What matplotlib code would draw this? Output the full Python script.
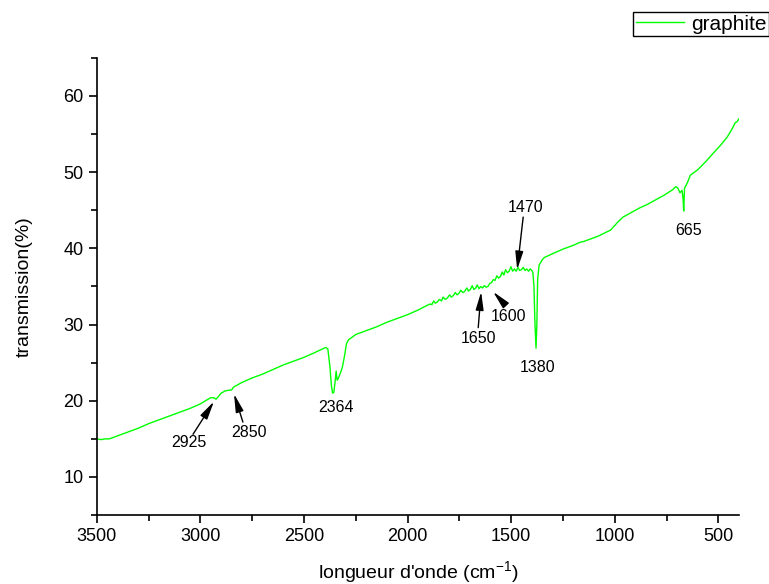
"""
FTIR spectrum of graphite - transmission vs wavenumber
"""

import matplotlib.pyplot as plt
from matplotlib.ticker import MultipleLocator

plt.rcParams['font.family'] = ['Liberation Sans', 'DejaVu Sans']
plt.rcParams['mathtext.fontset'] = 'custom'
plt.rcParams['mathtext.rm'] = 'Liberation Sans'
plt.rcParams['mathtext.it'] = 'Liberation Sans'
plt.rcParams['mathtext.bf'] = 'Liberation Sans'

# wavenumber (cm-1)
wavenumber = [3500, 3480, 3460, 3440, 3420, 3400, 3350, 3300, 3250, 3200,
              3150, 3100, 3050, 3000, 2970, 2950, 2935, 2925, 2915, 2900,
              2880, 2860, 2850, 2840, 2820, 2800, 2750, 2700, 2650, 2600,
              2550, 2500, 2450, 2410, 2395, 2385, 2375, 2368, 2362, 2356,
              2350, 2345, 2340, 2335, 2325, 2315, 2305, 2295, 2285, 2275,
              2250, 2200, 2150, 2100, 2050, 2000, 1950, 1900,
              1890, 1883, 1874, 1866, 1855, 1847, 1836, 1829, 1818, 1808,
              1797, 1790, 1779, 1770, 1761, 1752, 1744, 1733, 1726, 1714,
              1706, 1697, 1688, 1680, 1671, 1664, 1655, 1647, 1638, 1630,
              1621, 1612, 1603, 1595, 1586, 1578, 1569, 1561, 1552, 1543,
              1535, 1527, 1518, 1510, 1501, 1493, 1484, 1476, 1467, 1459,
              1450, 1442, 1433, 1425, 1416, 1408, 1400,
              1395, 1390, 1385, 1380, 1376, 1372, 1365, 1350, 1340, 1300,
              1250, 1200, 1167, 1150, 1120, 1080, 1050, 1020, 1000, 980,
              960, 920, 880, 840, 800, 760, 720, 705, 695, 685,
              675, 670, 667, 663, 655, 645, 635, 620, 600, 560,
              524, 490, 457, 435, 418, 410, 403, 400]

transmission = [15.0, 14.9, 15.0, 15.0, 15.2, 15.4, 15.9, 16.4, 17.0, 17.5,
                18.0, 18.5, 19.0, 19.6, 20.1, 20.4, 20.4, 20.2, 20.5, 21.0,
                21.3, 21.4, 21.4, 21.8, 22.1, 22.4, 23.0, 23.5, 24.1, 24.7,
                25.2, 25.7, 26.3, 26.8, 27.0, 26.8, 24.5, 22.0, 21.0, 21.1,
                22.5, 23.9, 22.7, 22.9, 23.6, 24.4, 25.8, 27.5, 28.0, 28.2,
                28.7, 29.2, 29.7, 30.3, 30.8, 31.3, 31.9, 32.6,
                32.7, 32.6, 33.1, 32.8, 33.0, 33.3, 33.1, 33.6, 33.3, 33.5,
                33.9, 33.6, 33.8, 34.2, 33.9, 34.1, 34.5, 34.2, 34.3, 34.8,
                34.4, 34.6, 35.1, 34.6, 34.8, 35.2, 34.7, 35.0, 34.8, 35.1,
                34.9, 35.0, 35.4, 35.5, 35.9, 35.8, 36.4, 36.1, 36.3, 36.9,
                36.5, 37.2, 36.8, 37.0, 37.6, 37.0, 37.3, 37.0, 37.5, 37.1,
                37.2, 37.5, 37.1, 37.3, 37.0, 37.3, 37.1,
                36.8, 35.0, 30.0, 26.9, 30.0, 36.0, 37.8, 38.5, 38.8, 39.3,
                39.9, 40.4, 40.8, 40.9, 41.2, 41.6, 42.0, 42.4, 43.0, 43.6,
                44.1, 44.7, 45.3, 45.8, 46.4, 47.0, 47.7, 48.1, 47.9, 47.3,
                47.6, 46.5, 44.9, 47.9, 48.3, 48.9, 49.6, 49.9, 50.3, 51.4,
                52.5, 53.5, 54.6, 55.6, 56.5, 56.6, 56.9, 57.0]

# peak labels: text, text position (x, y), arrow tail and tip (None = no arrow)
peak_labels = ['2925', '2850', '2364', '1650', '1600', '1470', '1380', '665']
label_pos = [(3056, 14.5), (2766, 15.9), (2345, 19.1), (1659, 28.2),
             (1515, 31.1), (1432, 45.3), (1374, 24.4), (645, 42.4)]
arrow_tail = [(3036, 15.6), (2795, 17.2), None, (1659, 29.6),
              (1529, 32.6), (1442, 44.1), None, None]
arrow_tip = [(2935, 19.9), (2838, 20.9), None, (1645, 34.3),
             (1587, 34.3), (1471, 37.2), None, None]

fig = plt.figure(figsize=(7.69, 5.84), dpi=100)
ax = fig.add_axes([0.126, 0.118, 0.835, 0.783])

ax.plot(wavenumber, transmission, color='#00ff00', lw=1.0, label='graphite')

for txt, pos, tail, tip in zip(peak_labels, label_pos, arrow_tail, arrow_tip):
    ax.text(pos[0], pos[1], txt, ha='center', va='center', fontsize=11.5)
    if tip is not None:
        ax.annotate('', xy=tip, xytext=tail,
                    arrowprops=dict(arrowstyle='-|>,head_length=0.55,head_width=0.12',
                                    color='black', lw=1.0, mutation_scale=20,
                                    shrinkA=0, shrinkB=0))

ax.set_xlim(3500, 400)
ax.set_ylim(5, 65)
ax.xaxis.set_major_locator(MultipleLocator(500))
ax.xaxis.set_minor_locator(MultipleLocator(250))
ax.yaxis.set_major_locator(MultipleLocator(10))
ax.yaxis.set_minor_locator(MultipleLocator(5))

for side in ['top', 'right']:
    ax.spines[side].set_visible(False)
for side in ['left', 'bottom']:
    ax.spines[side].set_linewidth(1.2)

ax.tick_params(which='major', direction='out', length=6, width=1.2, labelsize=13)
ax.tick_params(which='minor', direction='out', length=4, width=1.2)

ax.set_xlabel("longueur d'onde (cm$^{-1}$)", fontsize=14, labelpad=10)
ax.set_ylabel('transmission(%)', fontsize=14, labelpad=22)

leg = ax.legend(loc='upper right', bbox_to_anchor=(1.0, 0.979),
                bbox_transform=fig.transFigure, fontsize=15, fancybox=False,
                edgecolor='black', framealpha=1, borderpad=0.12,
                handlelength=2.3, handletextpad=0.35, borderaxespad=0)
leg.get_frame().set_linewidth(1.0)

plt.savefig('out.png', dpi=100)
plt.close()
